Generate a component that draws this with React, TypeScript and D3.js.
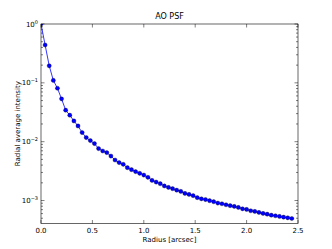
import { useEffect, useRef } from 'react';
import * as d3 from 'd3';

// radius step 0.04 arcsec, 62 samples
const radius: number[] = d3.range(62).map((i) => +(i * 0.04).toFixed(2));
const intensity: number[] = [
  1.0, 0.44, 0.195, 0.11, 0.081, 0.0534, 0.0343, 0.0282, 0.0225, 0.0185,
  0.0143, 0.01175, 0.01044, 0.00929, 0.00763, 0.00695, 0.00652, 0.0057, 0.00488, 0.00441,
  0.00412, 0.00362, 0.00335, 0.0031, 0.0029, 0.00271, 0.00248, 0.0022, 0.00206, 0.00193,
  0.00177, 0.00167, 0.00159, 0.0015, 0.00143, 0.00132, 0.00127, 0.00121, 0.00112, 0.00107,
  0.00104, 0.000993, 0.000955, 0.000904, 0.000882, 0.000848, 0.000819, 0.000793, 0.000762, 0.000724,
  0.000705, 0.00067, 0.000652, 0.000627, 0.000603, 0.000586, 0.000564, 0.000551, 0.000536, 0.000521,
  0.000509, 0.000495,
];
const xTicks = [0, 0.5, 1.0, 1.5, 2.0, 2.5];
const yDecades = [0, -1, -2, -3];

export default function App() {
  const svgRef = useRef<SVGSVGElement>(null);

  useEffect(() => {
    if (!svgRef.current) return;
    const svg = d3.select(svgRef.current);
    svg.selectAll('*').remove();

    const width = 332;
    const height = 249;
    const left = 41;
    const right = 298;
    const top = 24;
    const bottom = 223.5;
    const font = 'DejaVu Sans, sans-serif';

    svg.attr('width', width).attr('height', height);
    svg.append('rect').attr('width', width).attr('height', height).attr('fill', '#fff');

    const x = d3.scaleLinear().domain([0, 2.5]).range([left, right]);
    const y = d3.scaleLog().domain([4.07e-4, 1]).range([bottom, top]);

    svg.append('defs').append('clipPath').attr('id', 'plot-clip')
      .append('rect')
      .attr('x', left).attr('y', top)
      .attr('width', right - left).attr('height', bottom - top);

    // ticks, pointing inward on all four sides
    const tickG = svg.append('g').attr('stroke', '#000').attr('stroke-width', 0.5);
    xTicks.forEach((t) => {
      tickG.append('line').attr('x1', x(t)).attr('x2', x(t)).attr('y1', bottom).attr('y2', bottom - 3.5);
      tickG.append('line').attr('x1', x(t)).attr('x2', x(t)).attr('y1', top).attr('y2', top + 3.5);
    });
    const minor: number[] = [];
    [-4, -3, -2, -1].forEach((e) => {
      for (let m = 2; m <= 9; m++) {
        const v = m * Math.pow(10, e);
        if (v >= 4.07e-4 && v <= 1) minor.push(v);
      }
    });
    minor.forEach((v) => {
      tickG.append('line').attr('x1', left).attr('x2', left + 2).attr('y1', y(v)).attr('y2', y(v));
      tickG.append('line').attr('x1', right).attr('x2', right - 2).attr('y1', y(v)).attr('y2', y(v));
    });
    yDecades.forEach((e) => {
      const v = Math.pow(10, e);
      tickG.append('line').attr('x1', left).attr('x2', left + 3.5).attr('y1', y(v)).attr('y2', y(v));
      tickG.append('line').attr('x1', right).attr('x2', right - 3.5).attr('y1', y(v)).attr('y2', y(v));
    });

    // line and markers
    const pts = radius.map((r, i) => ({ r, v: intensity[i] }));
    const line = d3.line<{ r: number; v: number }>()
      .x((d) => x(d.r))
      .y((d) => y(d.v));

    const plot = svg.append('g').attr('clip-path', 'url(#plot-clip)');
    plot.append('path')
      .datum(pts)
      .attr('fill', 'none')
      .attr('stroke', '#0000ff')
      .attr('stroke-width', 0.8)
      .attr('d', line);

    plot.selectAll('.point')
      .data(pts)
      .join('circle')
      .attr('class', 'point')
      .attr('cx', (d) => x(d.r))
      .attr('cy', (d) => y(d.v))
      .attr('r', 2.1)
      .attr('fill', '#0000ff')
      .attr('stroke', '#000')
      .attr('stroke-width', 0.3);

    // frame
    svg.append('rect')
      .attr('x', left).attr('y', top)
      .attr('width', right - left).attr('height', bottom - top)
      .attr('fill', 'none')
      .attr('stroke', '#000')
      .attr('stroke-width', 0.6);

    // x tick labels
    svg.append('g')
      .selectAll('text')
      .data(xTicks)
      .join('text')
      .attr('x', (d) => x(d))
      .attr('y', bottom + 9)
      .attr('text-anchor', 'middle')
      .attr('font-family', font)
      .attr('font-size', 7)
      .attr('fill', '#000')
      .text((d) => d.toFixed(1));

    // y tick labels 10^n
    const yl = svg.append('g');
    yDecades.forEach((e) => {
      const t = yl.append('text')
        .attr('x', left - 3)
        .attr('y', y(Math.pow(10, e)) + 2.5)
        .attr('text-anchor', 'end')
        .attr('font-family', font)
        .attr('font-size', 7)
        .attr('fill', '#000');
      t.append('tspan').text('10');
      t.append('tspan').attr('dy', -3).attr('font-size', 5).text(e === 0 ? '0' : `\u2212${-e}`);
    });

    // title and axis labels
    svg.append('text')
      .attr('x', (left + right) / 2)
      .attr('y', top - 5)
      .attr('text-anchor', 'middle')
      .attr('font-family', font)
      .attr('font-size', 8)
      .text('AO PSF');

    svg.append('text')
      .attr('x', (left + right) / 2)
      .attr('y', bottom + 18)
      .attr('text-anchor', 'middle')
      .attr('font-family', font)
      .attr('font-size', 7)
      .text('Radius [arcsec]');

    svg.append('text')
      .attr('transform', 'rotate(-90)')
      .attr('x', -(top + bottom) / 2)
      .attr('y', 20)
      .attr('text-anchor', 'middle')
      .attr('font-family', font)
      .attr('font-size', 7)
      .text('Radial average intensity');
  }, []);

  return (
    <div style={{ position: 'absolute', left: 0, top: 0 }}>
      <svg ref={svgRef}></svg>
    </div>
  );
}
